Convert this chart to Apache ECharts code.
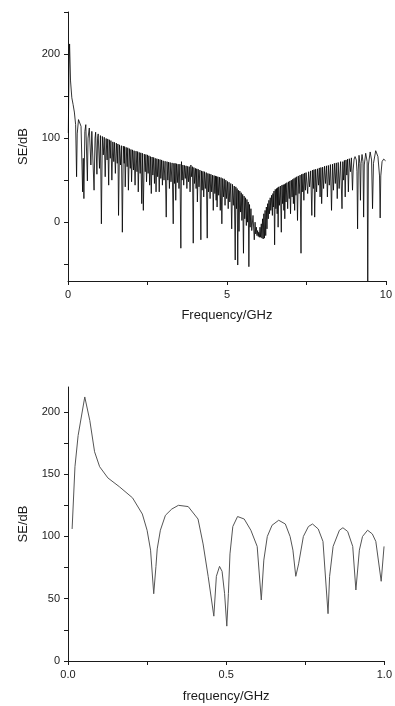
<!DOCTYPE html>
<html>
<head>
<meta charset="utf-8">
<script src="https://cdn.jsdelivr.net/npm/echarts@6/dist/echarts.min.js"></script>
<style>
  html, body { margin: 0; padding: 0; background: #fff; }
  #chart { width: 395px; height: 706px; }
</style>
</head>
<body>
<div id="chart"></div>
<script>
// upper panel: SE over 0-10 GHz, [GHz, dB]
const topBand0 = [
  [0.01, 106], [0.03, 181], [0.05, 212], [0.08, 168], [0.12, 148], [0.16, 140], [0.2, 131], [0.24, 116],
  [0.27, 54], [0.29, 105], [0.33, 122], [0.37, 124], [0.41, 114], [0.46, 36], [0.48, 76], [0.5, 28],
  [0.53, 108], [0.56, 116], [0.61, 49], [0.63, 100], [0.67, 112], [0.72, 68], [0.75, 108], [0.78, 110],
  [0.82, 38], [0.85, 100], [0.87, 107], [0.91, 57], [0.93, 100], [0.95, 105], [0.99, 64]
];
const topBand1 = [
  [1.02, 103], [1.05, -2], [1.08, 102], [1.11, 80], [1.14, 101], [1.17, 54], [1.2, 99.5], [1.23, 74],
  [1.25, 99], [1.28, 44], [1.3, 98], [1.33, 76], [1.35, 97], [1.38, 50], [1.41, 95.5], [1.44, 72],
  [1.46, 95], [1.49, 58], [1.52, 94], [1.55, 70], [1.57, 93], [1.59, 8], [1.62, 92], [1.65, 68],
  [1.68, 91], [1.71, -12], [1.74, 90.5], [1.77, 70], [1.78, 90], [1.8, 42], [1.83, 89], [1.86, 66],
  [1.88, 88.5], [1.9, 38], [1.93, 87.5], [1.96, 64], [1.98, 86.5], [2, 48], [2.03, 86], [2.06, 62],
  [2.08, 85], [2.11, 44], [2.14, 84.5], [2.17, 60], [2.19, 84], [2.21, 36], [2.24, 83], [2.27, 58],
  [2.29, 82.5], [2.32, 22], [2.34, 82], [2.37, 14], [2.4, 81]
];
const topBand2 = [
  [2.43, 60], [2.45, 80.5], [2.47, 48], [2.5, 80], [2.52, 58], [2.545, 79], [2.57, 44], [2.595, 78],
  [2.62, 34], [2.645, 77.5], [2.67, 56], [2.695, 77], [2.72, 46], [2.745, 76], [2.77, 36], [2.795, 75.5],
  [2.82, 54], [2.845, 75], [2.87, 36], [2.895, 74.5], [2.92, 52], [2.945, 74], [2.97, 44], [2.995, 73],
  [3.02, 50], [3.055, 72.5], [3.09, 6], [3.115, 72], [3.14, 50], [3.165, 71.5], [3.19, 40], [3.215, 71],
  [3.24, 48], [3.275, 70.5], [3.31, -2], [3.33, 70], [3.35, 46], [3.37, 70], [3.39, 26], [3.415, 69.5],
  [3.44, 47], [3.465, 69], [3.49, 40], [3.52, 69], [3.55, -31], [3.57, 72], [3.59, 50], [3.615, 68],
  [3.64, 44], [3.665, 67.5], [3.69, 52], [3.715, 67], [3.74, 40], [3.765, 66.5], [3.79, 48], [3.815, 66],
  [3.84, 36], [3.865, 68], [3.89, 54], [3.915, 66], [3.94, -25], [3.96, 65], [3.98, 46], [4.01, 64]
];
const topBand3 = [
  [4.03, 40], [4.05, 63.5], [4.07, 24], [4.095, 63], [4.12, 42], [4.15, 62], [4.18, -21], [4.2, 61],
  [4.22, 38], [4.245, 60.5], [4.27, 30], [4.295, 60], [4.32, 40], [4.35, 59], [4.38, -19], [4.4, 58],
  [4.42, 36], [4.445, 57.5], [4.47, 28], [4.495, 57], [4.52, 36], [4.545, 56], [4.57, 14], [4.595, 55.5],
  [4.62, 34], [4.64, 55], [4.66, 26], [4.675, 54.5], [4.69, 18], [4.715, 54], [4.74, 32], [4.765, 53.5],
  [4.79, 14], [4.815, 53], [4.84, -2], [4.865, 52], [4.89, 30], [4.915, 51.5], [4.94, 20], [4.965, 50],
  [4.99, 28], [5.015, 48.5], [5.04, 16], [5.065, 47.5], [5.09, 24], [5.12, 46], [5.15, -8], [5.175, 45],
  [5.2, 20], [5.23, 43], [5.26, -45], [5.28, 42], [5.3, 16], [5.32, 40], [5.34, -51], [5.36, 38],
  [5.38, -11], [5.405, 37], [5.43, 12], [5.45, 35], [5.47, 2], [5.495, 33], [5.52, -37], [5.54, 31],
  [5.56, 4], [5.585, 29], [5.61, -4], [5.63, 27], [5.65, 0], [5.67, 24], [5.69, -53], [5.71, 21],
  [5.73, -6], [5.755, 16], [5.78, -10], [5.82, 8]
];
const topBand4 = [
  [5.86, -21], [5.885, 0], [5.905, -14], [5.925, -6], [5.945, -16], [5.965, -10], [5.985, -17], [6, -12],
  [6.02, -18], [6.04, -6], [6.06, -18], [6.08, -2], [6.1, -19], [6.12, 4], [6.14, -20], [6.16, 10],
  [6.18, -19], [6.2, 14], [6.22, -16], [6.24, 18], [6.26, -8], [6.28, 22], [6.3, 4], [6.32, 26]
];
const topBand5 = [
  [6.34, 10], [6.36, 29], [6.38, 14], [6.405, 32], [6.43, 8], [6.445, 34], [6.46, 18], [6.48, 37],
  [6.5, -27], [6.52, 39], [6.54, 16], [6.56, 40], [6.58, 10], [6.595, 41], [6.61, -6], [6.63, 42],
  [6.65, 20], [6.68, 43], [6.71, -12], [6.73, 44], [6.75, 22], [6.77, 44.5], [6.79, 14], [6.805, 45],
  [6.82, 4], [6.84, 46], [6.86, 24], [6.885, 47], [6.91, 16], [6.935, 48], [6.96, 28], [6.98, 49],
  [7, 10], [7.025, 50], [7.05, 30], [7.07, 51], [7.09, 22], [7.11, 52], [7.13, 14], [7.15, 53],
  [7.17, 32], [7.195, 54], [7.22, 2], [7.245, 55], [7.27, 34], [7.3, 56], [7.33, -37], [7.35, 57],
  [7.37, 36], [7.395, 57.5], [7.42, 26], [7.445, 58.5], [7.47, 38], [7.49, 59]
];
const topBand6 = [
  [7.54, 34], [7.57, 60], [7.6, 42], [7.635, 61], [7.67, 8], [7.695, 62], [7.72, 40], [7.74, 62.5],
  [7.76, 6], [7.79, 63], [7.82, 36], [7.85, 63.5], [7.88, 44], [7.905, 64.5], [7.93, 30], [7.955, 65],
  [7.98, 22], [8.01, 65.5], [8.04, 40], [8.07, 66.5], [8.1, 46], [8.13, 67], [8.16, 30], [8.19, 67.5],
  [8.22, 44], [8.255, 68.5], [8.29, 14], [8.32, 69], [8.35, 38], [8.38, 70], [8.41, 46], [8.44, 70.5],
  [8.47, 28], [8.5, 71], [8.53, 40], [8.575, 72], [8.62, 16]
];
const topBand7 = [
  [8.645, 72], [8.67, 50], [8.695, 73.5], [8.72, 30], [8.745, 74], [8.77, 56], [8.795, 75], [8.82, 36],
  [8.85, 75.5], [8.885, 60], [8.915, 76.5], [8.95, 38], [8.97, 62], [9, 75], [9.03, 78], [9.07, 74],
  [9.09, 60], [9.11, -8], [9.13, 62], [9.155, 79.5], [9.18, 70], [9.2, 26], [9.22, 70], [9.25, 80.5],
  [9.28, 72], [9.3, 6], [9.32, 68], [9.365, 82], [9.41, 72], [9.43, -70], [9.45, 68], [9.505, 83.5],
  [9.55, 74], [9.58, 16], [9.61, 70], [9.68, 85], [9.75, 78], [9.8, 55], [9.82, 5], [9.84, 55],
  [9.88, 72], [9.93, 75], [9.99, 73]
];

// lower panel: close-up of 0-1 GHz
const zoomTrace = [
  [0.013, 106], [0.022, 156], [0.032, 181], [0.053, 212], [0.069, 193], [0.084, 168], [0.1, 156],
  [0.126, 147], [0.162, 140], [0.204, 131], [0.235, 118], [0.25, 105], [0.261, 89], [0.271, 54],
  [0.278, 76], [0.282, 90], [0.292, 105], [0.308, 117], [0.328, 122], [0.349, 125], [0.38, 124],
  [0.411, 114], [0.427, 94], [0.443, 68], [0.461, 36], [0.469, 68], [0.479, 76], [0.487, 72],
  [0.495, 54], [0.502, 28], [0.507, 54], [0.512, 86], [0.521, 108], [0.536, 116], [0.557, 114],
  [0.578, 105], [0.598, 92], [0.611, 49], [0.619, 81], [0.63, 100], [0.645, 109], [0.666, 113],
  [0.687, 110], [0.702, 100], [0.711, 89], [0.72, 68], [0.729, 78], [0.744, 100], [0.76, 108],
  [0.773, 110], [0.791, 106], [0.806, 96], [0.822, 38], [0.827, 68], [0.838, 92], [0.858, 105],
  [0.869, 107], [0.884, 104], [0.9, 92], [0.91, 57], [0.921, 89], [0.931, 100], [0.947, 105],
  [0.962, 102], [0.973, 96], [0.99, 64], [0.999, 92]
];

// tick positions and labels
const topXTicks = [0, 2.5, 5, 7.5, 10];
const topXLabels = [0, 5, 10];
const topYTicks = [-50, 0, 50, 100, 150, 200, 250];
const topYLabels = [0, 100, 200];
const zoomXTicks = [0, 0.25, 0.5, 0.75, 1];
const zoomXLabels = [0, 0.5, 1];
const zoomYTicks = [0, 25, 50, 75, 100, 125, 150, 175, 200];
const zoomYLabels = [0, 50, 100, 150, 200];

const topTrace = [].concat(topBand0, topBand1, topBand2, topBand3, topBand4, topBand5, topBand6, topBand7);

const FONT = '"Liberation Sans", Arial, sans-serif';
const INK = '#1a1a1a';

const axisBase = {
  type: 'value',
  splitLine: { show: false },
  axisLine: { onZero: false, lineStyle: { color: INK, width: 1 } },
  axisTick: { length: 4, lineStyle: { color: INK } },
  axisLabel: { color: INK, fontSize: 11, fontFamily: FONT, margin: 8 },
  nameLocation: 'middle',
  nameTextStyle: { color: INK, fontSize: 13, fontFamily: FONT }
};

const mkAxis = (extra, ticks, labels, fmt) => ({
  ...axisBase,
  ...extra,
  axisTick: { ...axisBase.axisTick, customValues: ticks },
  axisLabel: { ...axisBase.axisLabel, customValues: labels, formatter: fmt || (v => String(v)) }
});

const chart = echarts.init(document.getElementById('chart'));

chart.setOption({
  animation: false,
  backgroundColor: '#fff',
  grid: [
    { left: 68, top: 12, width: 321, height: 269 },
    { left: 68, top: 387, width: 321, height: 274 }
  ],
  xAxis: [
    mkAxis({ gridIndex: 0, min: 0, max: 10, name: 'Frequency/GHz', nameGap: 28 }, topXTicks, topXLabels),
    mkAxis({ gridIndex: 1, min: 0, max: 1, name: 'frequency/GHz', nameGap: 29 }, zoomXTicks, zoomXLabels,
      v => v.toFixed(1))
  ],
  yAxis: [
    mkAxis({ gridIndex: 0, min: -70, max: 250, name: 'SE/dB', nameGap: 38 }, topYTicks, topYLabels),
    mkAxis({ gridIndex: 1, min: 0, max: 220, name: 'SE/dB', nameGap: 38 }, zoomYTicks, zoomYLabels)
  ],
  series: [
    {
      type: 'line',
      xAxisIndex: 0,
      yAxisIndex: 0,
      data: topTrace,
      showSymbol: false,
      lineStyle: { color: '#000', width: 0.8 }
    },
    {
      type: 'line',
      xAxisIndex: 1,
      yAxisIndex: 1,
      data: zoomTrace,
      showSymbol: false,
      lineStyle: { color: '#555', width: 1 }
    }
  ]
});
</script>
</body>
</html>
